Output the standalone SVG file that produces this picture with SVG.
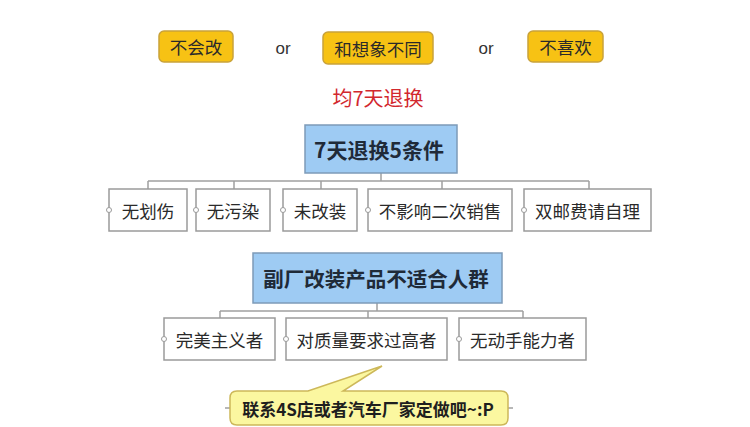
<svg xmlns="http://www.w3.org/2000/svg" width="750" height="427" viewBox="0 0 750 427">
<style>
text{font-family:"Noto Sans CJK SC","Noto Sans",sans-serif;text-anchor:middle;dominant-baseline:central;fill:#2a2a2a}
.y{fill:#f7c214;stroke:#c9a23a;stroke-width:1.5}
.b{fill:#9ecbf3;stroke:#7d9bb8;stroke-width:1.5}
.w{fill:#fff;stroke:#9a9a9a;stroke-width:1.5}
.t17{font-size:17.5px}
.t20{font-size:20.5px;font-weight:bold;fill:#1f2a38}
.or{font-size:17px;font-family:"Liberation Sans",sans-serif;fill:#333}
.c{fill:#fff;stroke:#9a9a9a;stroke-width:1}
.ln{fill:none;stroke:#a0a0a0;stroke-width:1.5}
</style>
<rect width="750" height="427" fill="#fff"/>
<g id="top-a"><rect class="y" x="159" y="31" width="74" height="31" rx="5"/><text class="t17" x="196" y="46">不会改</text></g>
<text class="or" x="283" y="48">or</text>
<g id="top-b"><rect class="y" x="323" y="32" width="110" height="32" rx="5"/><text class="t17" x="378" y="48">和想象不同</text></g>
<text class="or" x="486" y="48">or</text>
<g id="top-c"><rect class="y" x="528" y="31" width="75" height="31" rx="5"/><text class="t17" x="565.5" y="46">不喜欢</text></g>
<text x="378" y="97" style="font-size:20px;fill:#d2282e">均7天退换</text>

<g id="connectors">
<path class="ln" d="M381 173V181M148 181H589M148 181V189M234 181V189M321 181V189M442 181V189M589 181V189"/>
<path class="ln" d="M377 303V311M220 311H523M220 311V318M368 311V318M523 311V318"/>
<path class="ln" d="M225 408H230M508 408H513"/>
</g>

<g id="p1"><rect class="b" x="305" y="125" width="152" height="48"/><text class="t20" x="379" y="149" style="font-size:21px">7天退换5条件</text></g>
<g id="c1"><rect class="w" x="109" y="189" width="78" height="42"/><circle class="c" cx="109" cy="210" r="2.5"/><text class="t17" x="148" y="210">无划伤</text></g>
<g id="c2"><rect class="w" x="196" y="189" width="74" height="42"/><circle class="c" cx="196" cy="210" r="2.5"/><text class="t17" x="233" y="210">无污染</text></g>
<g id="c3"><rect class="w" x="283" y="189" width="74" height="42"/><circle class="c" cx="283" cy="210" r="2.5"/><text class="t17" x="320" y="210">未改装</text></g>
<g id="c4"><rect class="w" x="368" y="189" width="144" height="42"/><circle class="c" cx="368" cy="210" r="2.5"/><text class="t17" x="440" y="210">不影响二次销售</text></g>
<g id="c5"><rect class="w" x="524" y="189" width="127" height="42"/><circle class="c" cx="524" cy="210" r="2.5"/><text class="t17" x="587.5" y="210">双邮费请自理</text></g>

<g id="p2"><rect class="b" x="253" y="253" width="249" height="50"/><text class="t20" x="376" y="278">副厂改装产品不适合人群</text></g>
<g id="d1"><rect class="w" x="164" y="318" width="111" height="42"/><circle class="c" cx="164" cy="339" r="2.5"/><text class="t17" x="219.5" y="339">完美主义者</text></g>
<g id="d2"><rect class="w" x="286" y="318" width="161" height="42"/><circle class="c" cx="286" cy="339" r="2.5"/><text class="t17" x="366.5" y="339">对质量要求过高者</text></g>
<g id="d3"><rect class="w" x="459" y="318" width="127" height="42"/><circle class="c" cx="459" cy="339" r="2.5"/><text class="t17" x="522.5" y="339">无动手能力者</text></g>

<g id="callout"><path d="M237 391H308L382 366L343 391H501Q508 391 508 398V418Q508 425 501 425H237Q230 425 230 418V398Q230 391 237 391Z" fill="#fbf7a0" stroke="#cdb85a" stroke-width="1.5"/><text x="368" y="408" style="font-size:17px;font-weight:bold;fill:#1e1e1e">联系4S店或者汽车厂家定做吧~:P</text></g>
</svg>
